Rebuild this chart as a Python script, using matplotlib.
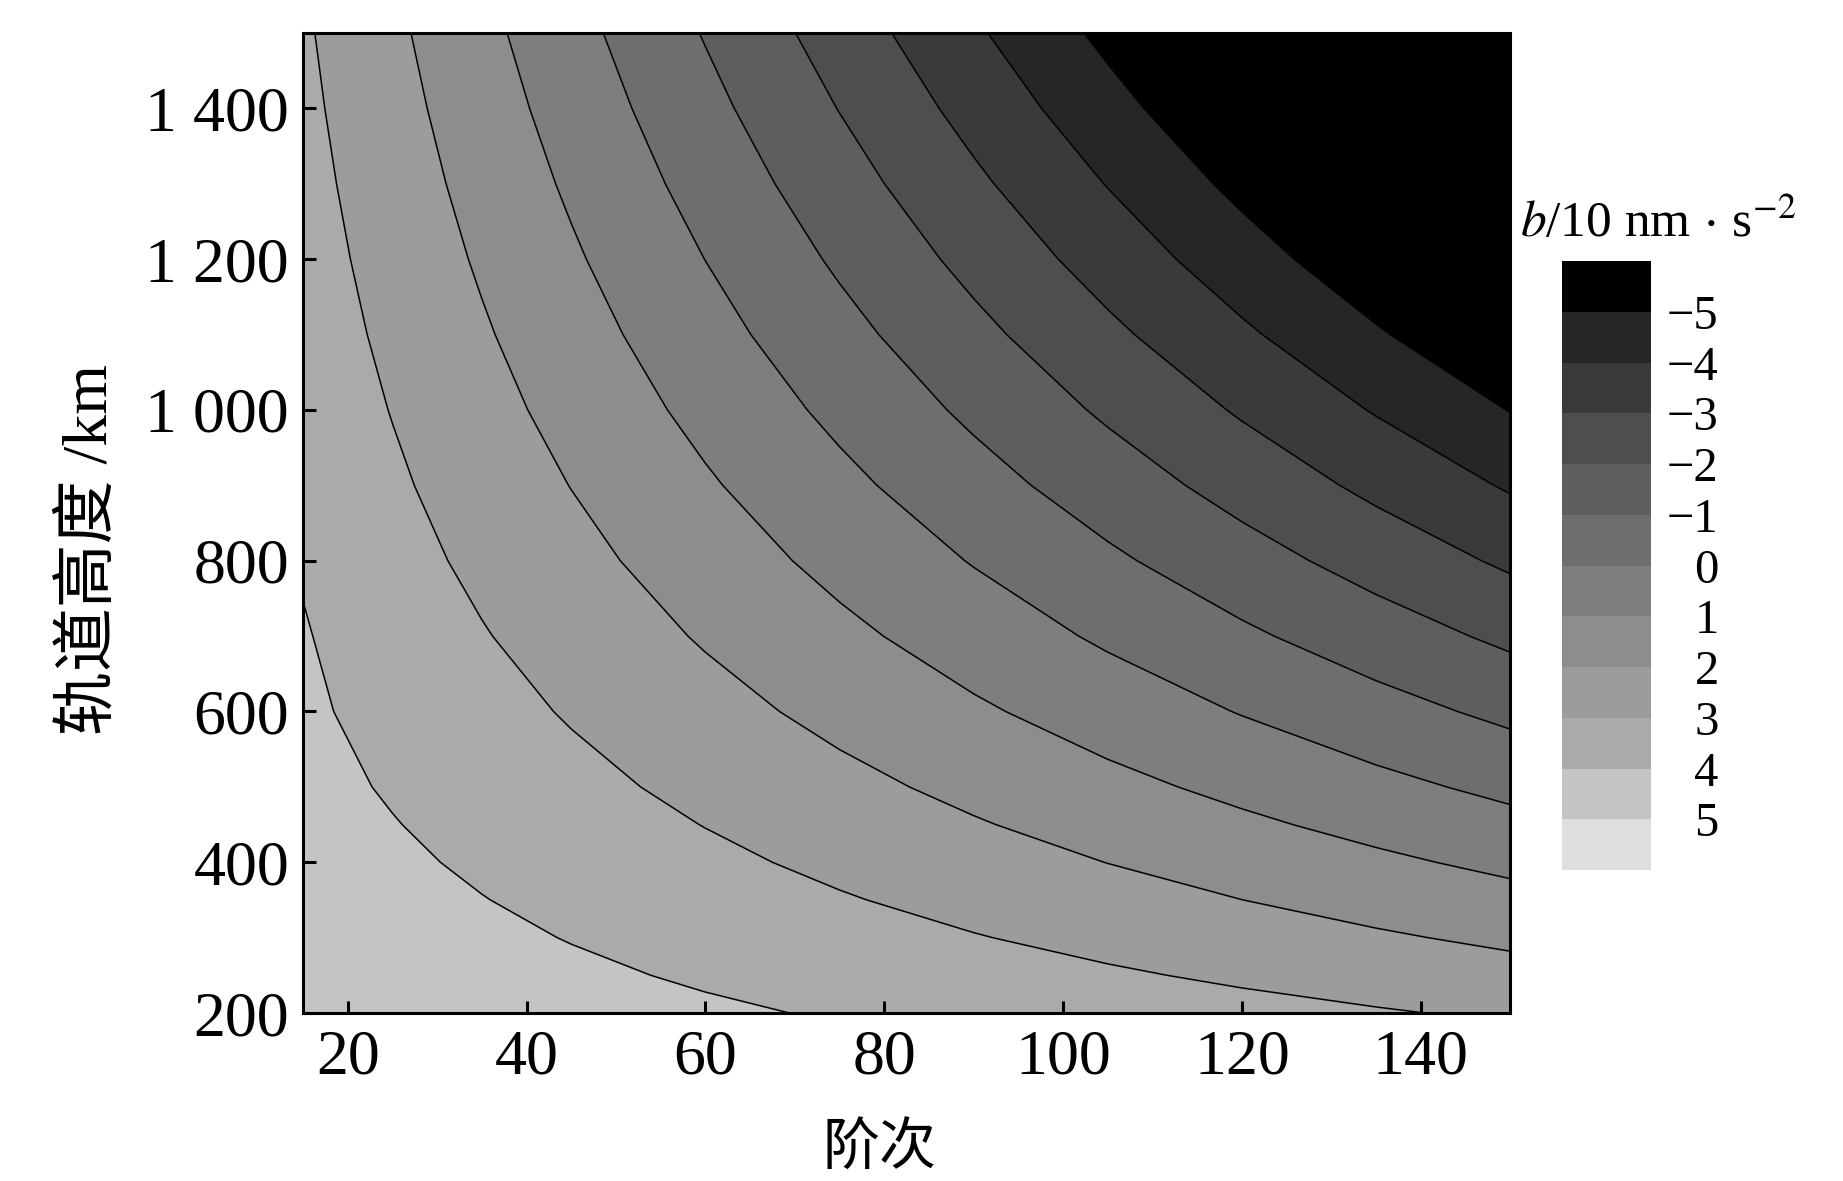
import matplotlib
matplotlib.use('Agg')
import matplotlib.pyplot as plt

plt.rcParams['font.family'] = ['Liberation Serif', 'Noto Sans CJK SC']
plt.rcParams['mathtext.fontset'] = 'stix'

# degree (x) and orbit altitude in km (y) of the sampled grid
degree = [15, 25, 35, 45, 60, 75, 90, 105, 120, 135, 150]
altitude = [200, 250, 300, 350, 400, 450, 500, 600, 700, 800, 900,
            1000, 1100, 1200, 1300, 1400, 1500]

# b in units of 10 nm/s^2, one row per altitude
b_value = [
    [4.765, 4.625, 4.484, 4.343, 4.132, 3.922, 3.711, 3.500, 3.289, 3.078, 2.867],
    [4.673, 4.500, 4.327, 4.154, 3.895, 3.635, 3.376, 3.116, 2.856, 2.597, 2.337],
    [4.584, 4.379, 4.173, 3.968, 3.660, 3.352, 3.044, 2.736, 2.428, 2.120, 1.812],
    [4.498, 4.260, 4.023, 3.785, 3.429, 3.073, 2.717, 2.361, 2.004, 1.648, 1.292],
    [4.414, 4.145, 3.875, 3.606, 3.202, 2.798, 2.393, 1.989, 1.585, 1.181, 0.777],
    [4.334, 4.033, 3.732, 3.431, 2.979, 2.527, 2.075, 1.623, 1.172, 0.720, 0.268],
    [4.257, 3.924, 3.591, 3.258, 2.759, 2.260, 1.761, 1.261, 0.762, 0.263, -0.236],
    [4.150, 3.713, 3.317, 2.922, 2.328, 1.735, 1.142, 0.548, -0.045, -0.639, -1.232],
    [4.060, 3.513, 3.055, 2.598, 1.911, 1.225, 0.538, -0.148, -0.834, -1.521, -2.207],
    [3.930, 3.322, 2.803, 2.285, 1.506, 0.727, -0.051, -0.830, -1.608, -2.387, -3.165],
    [3.760, 3.142, 2.562, 1.982, 1.113, 0.243, -0.627, -1.496, -2.366, -3.235, -4.105],
    [3.608, 2.969, 2.329, 1.689, 0.729, -0.230, -1.190, -2.150, -3.109, -4.069, -5.029],
    [3.502, 2.803, 2.104, 1.405, 0.356, -0.693, -1.741, -2.790, -3.839, -4.888, -5.936],
    [3.402, 2.644, 1.886, 1.128, -0.008, -1.145, -2.282, -3.419, -4.556, -5.693, -6.830],
    [3.306, 2.490, 1.674, 0.858, -0.365, -1.589, -2.813, -4.037, -5.261, -6.485, -7.709],
    [3.213, 2.340, 1.467, 0.593, -0.717, -2.027, -3.337, -4.646, -5.956, -7.266, -8.576],
    [3.123, 2.193, 1.263, 0.333, -1.062, -2.457, -3.852, -5.247, -6.642, -8.037, -9.432],
]

line_levels = [-5, -4, -3, -2, -1, 0, 1, 2, 3, 4, 5]
band_edges = [-10] + line_levels + [10]
band_colors = ['#000000', '#262626', '#3a3a3a', '#4e4e4e', '#5e5e5e', '#6e6e6e',
               '#7e7e7e', '#8d8d8d', '#9c9c9c', '#aaaaaa', '#c4c4c4', '#dedede']

x_ticks = [20, 40, 60, 80, 100, 120, 140]
y_ticks = [200, 400, 600, 800, 1000, 1200, 1400]
y_ticklabels = ['200', '400', '600', '800', '1 000', '1 200', '1 400']
cb_ticklabels = ['\u22125', '\u22124', '\u22123', '\u22122', '\u22121', '0', '1', '2', '3', '4', '5']

fig = plt.figure(figsize=(18.43, 11.81), dpi=100)
ax = fig.add_axes([0.1644, 0.1422, 0.6549, 0.8299])

cs = ax.contourf(degree, altitude, b_value, levels=band_edges, colors=band_colors)
ax.contour(degree, altitude, b_value, levels=line_levels, colors='black',
           linewidths=1.1, linestyles='solid')

ax.set_xlim(15, 150)
ax.set_ylim(200, 1500)
ax.set_xticks(x_ticks)
ax.set_yticks(y_ticks)
ax.set_yticklabels(y_ticklabels)
ax.tick_params(direction='in', length=9, width=2.2, labelsize=46)
ax.tick_params(axis='x', pad=12)
ax.tick_params(axis='y', pad=10)
for sp in ax.spines.values():
    sp.set_linewidth(2.2)

fig.text(0.477, 0.026, '阶次', ha='center', va='center', fontsize=41)
fig.text(0.049, 0.535, '轨道高度 /km', rotation=90, ha='center', va='center', fontsize=46)

cax = fig.add_axes([0.8473, 0.2633, 0.0483, 0.5157])
cb = fig.colorbar(cs, cax=cax, spacing='uniform', ticks=line_levels)
cb.ax.invert_yaxis()
cb.outline.set_visible(False)
cb.ax.tick_params(length=0, labelsize=35, pad=49)
cb.set_ticklabels(cb_ticklabels)
for t in cb.ax.get_yticklabels():
    t.set_ha('right')

fig.text(0.8245, 0.811, r'$b$/10 nm$\,\cdot\,$s$^{-2}$', fontsize=37, va='center')

fig.savefig('out.png', dpi=100)
